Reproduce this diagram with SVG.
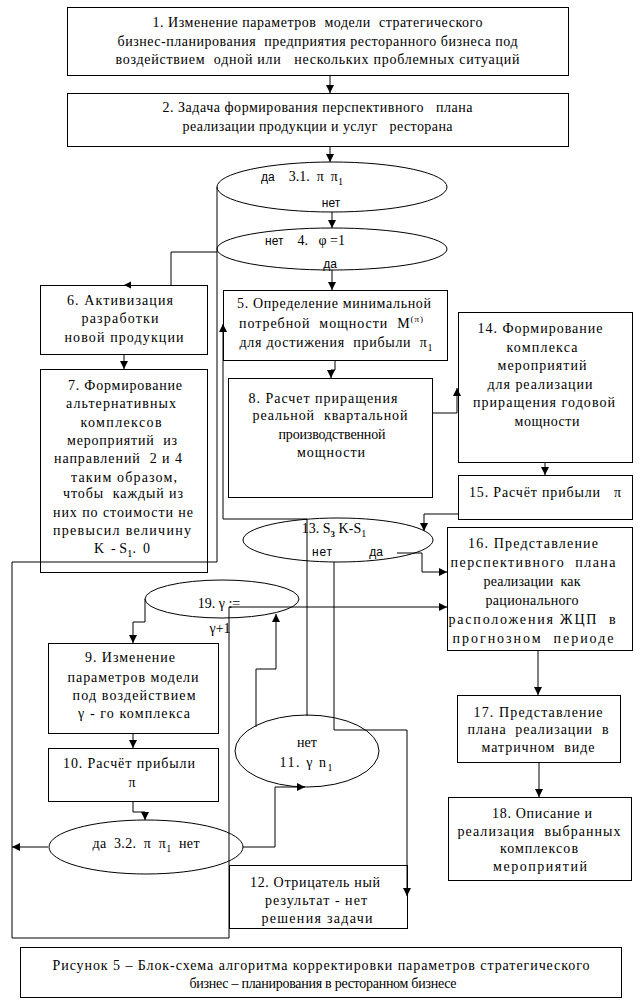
<svg xmlns="http://www.w3.org/2000/svg" width="641" height="1008" viewBox="0 0 641 1008">
<style>
.b{fill:none;stroke:#000;stroke-width:1}
.c{fill:none;stroke:#000;stroke-width:1}
text{font-family:"Liberation Serif","DejaVu Serif",serif;font-size:14px;fill:#000;text-anchor:middle;white-space:pre}
.s{font-family:"Liberation Sans","DejaVu Sans",sans-serif;font-size:12px}
</style>
<defs>
<marker id="a" markerUnits="userSpaceOnUse" markerWidth="8" markerHeight="8" refX="8" refY="4" orient="auto"><path d="M0,0 L8,4 L0,8 z" fill="#000"/></marker>
</defs>
<rect width="641" height="1008" fill="#fff"/>
<g id="connectors">
<path class="c" d="M330,75 V93" marker-end="url(#a)"/>
<path class="c" d="M330,146 V162" marker-end="url(#a)"/>
<path class="c" d="M332,212 V228" marker-end="url(#a)"/>
<path class="c" d="M332,270 V290" marker-end="url(#a)"/>
<path class="c" d="M217,252 H171 V285"/>
<polygon points="124,285 131,281.5 131,288.5" fill="#000"/>
<path class="c" d="M217,187 V562 H12 V938 H229 V607 H447" marker-end="url(#a)"/>
<path class="c" d="M124,354 V369" marker-end="url(#a)"/>
<path class="c" d="M335,360 V370 H331 V378" marker-end="url(#a)"/>
<path class="c" d="M432,413 H457 V388" marker-end="url(#a)"/>
<path class="c" d="M545,462 V475" marker-end="url(#a)"/>
<path class="c" d="M458,514 H424 V531" marker-end="url(#a)"/>
<path class="c" d="M397,553 H422 V572 H447" marker-end="url(#a)"/>
<path class="c" d="M334,562 V730 H407 V896" marker-end="url(#a)"/>
<path class="c" d="M307,716 V519 H223 V324" marker-end="url(#a)"/>
<path class="c" d="M256,727 V669 H276 V614" marker-end="url(#a)"/>
<path class="c" d="M145,599 V622 H133 V643" marker-end="url(#a)"/>
<path class="c" d="M133,733 V748" marker-end="url(#a)"/>
<path class="c" d="M133,801 V812 H145 V820" marker-end="url(#a)"/>
<path class="c" d="M48,847 H12" marker-end="url(#a)"/>
<path class="c" d="M243,847 H275 V787 H305" marker-end="url(#a)"/>
<path class="c" d="M538,650 V695" marker-end="url(#a)"/>
<path class="c" d="M539,762 V797" marker-end="url(#a)"/>
</g>
<g id="n1">
<rect class="b" x="67.5" y="7.5" width="501" height="68"/>
<text x="317.5" y="27" textLength="330" lengthAdjust="spacing">1. Изменение параметров  модели  стратегического</text>
<text x="317.5" y="46" textLength="400" lengthAdjust="spacing">бизнес-планирования  предприятия ресторанного бизнеса под</text>
<text x="317.5" y="64" textLength="404" lengthAdjust="spacing">воздействием  одной или   нескольких проблемных ситуаций</text>
</g>
<g id="n2">
<rect class="b" x="67.5" y="93.5" width="501" height="53"/>
<text x="317.5" y="112" textLength="310" lengthAdjust="spacing">2. Задача формирования перспективного   плана</text>
<text x="317.5" y="131" textLength="270" lengthAdjust="spacing">реализации продукции и услуг   ресторана</text>
</g>
<g id="n3_1">
<ellipse class="b" cx="332" cy="187" rx="115" ry="25"/>
<text x="302" y="181"><tspan class="s">да</tspan>    3.1.  π  π<tspan dy="4" font-size="10">1</tspan></text>
<text class="s" x="331" y="207">нет</text>
</g>
<g id="n4">
<ellipse class="b" cx="332" cy="249" rx="115" ry="21"/>
<text x="305" y="245"><tspan class="s">нет</tspan>    4.   φ =1</text>
<text class="s" x="330" y="268">да</text>
</g>
<g id="n5">
<rect class="b" x="223.5" y="290.5" width="224" height="70"/>
<text x="334" y="308" textLength="194" lengthAdjust="spacing">5. Определение минимальной</text>
<text x="331" y="328" textLength="184" lengthAdjust="spacing">потребной  мощности  M<tspan dy="-6" font-size="9">(π)</tspan></text>
<text x="336" y="347" textLength="193" lengthAdjust="spacing">для достижения  прибыли  π<tspan dy="4" font-size="10">1</tspan></text>
</g>
<g id="n6">
<rect class="b" x="40.5" y="285.5" width="167" height="69"/>
<text x="120" y="305" textLength="106" lengthAdjust="spacing">6. Активизация</text>
<text x="120" y="323" textLength="77" lengthAdjust="spacing">разработки</text>
<text x="124" y="342" textLength="119" lengthAdjust="spacing">новой продукции</text>
</g>
<g id="n7">
<rect class="b" x="40.5" y="369.5" width="167" height="203"/>
<text x="125" y="390" textLength="114" lengthAdjust="spacing">7. Формирование</text>
<text x="121" y="408" textLength="110" lengthAdjust="spacing">альтернативных</text>
<text x="121" y="427" textLength="81" lengthAdjust="spacing">комплексов</text>
<text x="122" y="445" textLength="110" lengthAdjust="spacing">мероприятий  из</text>
<text x="118" y="463" textLength="128" lengthAdjust="spacing">направлений  2 и 4</text>
<text x="124" y="482" textLength="106" lengthAdjust="spacing">таким образом,</text>
<text x="123" y="498" textLength="120" lengthAdjust="spacing">чтобы  каждый из</text>
<text x="123" y="517" textLength="140" lengthAdjust="spacing">них по стоимости не</text>
<text x="122" y="535" textLength="138" lengthAdjust="spacing">превысил величину</text>
<text x="122" y="553" font-size="16">K  - S<tspan dy="4" font-size="11">1</tspan><tspan dy="-4">.  0</tspan></text>
</g>
<g id="n8">
<rect class="b" x="228.5" y="378.5" width="204" height="119"/>
<text x="323" y="403" textLength="149" lengthAdjust="spacing">8. Расчет приращения</text>
<text x="330" y="420" textLength="155" lengthAdjust="spacing">реальной  квартальной</text>
<text x="332" y="439" textLength="107" lengthAdjust="spacing">производственной</text>
<text x="331" y="457" textLength="68" lengthAdjust="spacing">мощности</text>
</g>
<g id="n14">
<rect class="b" x="458.5" y="312.5" width="174" height="150"/>
<text x="540" y="333" textLength="125" lengthAdjust="spacing">14. Формирование</text>
<text x="542" y="352" textLength="71" lengthAdjust="spacing">комплекса</text>
<text x="542" y="370" textLength="89" lengthAdjust="spacing">мероприятий</text>
<text x="540" y="389" textLength="105" lengthAdjust="spacing">для реализации</text>
<text x="544" y="407" textLength="142" lengthAdjust="spacing">приращения годовой</text>
<text x="547" y="426" textLength="65" lengthAdjust="spacing">мощности</text>
</g>
<g id="n15">
<rect class="b" x="458.5" y="475.5" width="174" height="44"/>
<text x="545" y="497" textLength="152" lengthAdjust="spacing">15. Расчёт прибыли   π</text>
</g>
<g id="n13">
<ellipse class="b" cx="338" cy="540" rx="95" ry="22"/>
<text x="334" y="533" font-size="15">13. S<tspan dy="4" font-size="9" font-weight="bold">3</tspan><tspan dy="-4"> K-S</tspan><tspan dy="4" font-size="10">1</tspan></text>
<text class="s" x="322" y="556" textLength="20" lengthAdjust="spacing">нет</text>
<text class="s" x="376" y="556">да</text>
</g>
<g id="n16">
<rect class="b" x="447.5" y="527.5" width="185" height="123"/>
<text x="533" y="548" textLength="130" lengthAdjust="spacing">16. Представление</text>
<text x="533" y="567" textLength="165" lengthAdjust="spacing">перспективного  плана</text>
<text x="532" y="586" textLength="97" lengthAdjust="spacing">реализации  как</text>
<text x="532" y="605" textLength="93" lengthAdjust="spacing">рационального</text>
<text x="532" y="624" textLength="167" lengthAdjust="spacing">расположения ЖЦП  в</text>
<text x="533" y="643" textLength="161" lengthAdjust="spacing">прогнозном  периоде</text>
</g>
<g id="n19">
<ellipse class="b" cx="222" cy="599" rx="77" ry="19"/>
<text x="219" y="608" font-size="16">19. γ :=</text>
<text x="220" y="633" font-size="16">γ+1</text>
</g>
<g id="n9">
<rect class="b" x="48.5" y="643.5" width="170" height="90"/>
<text x="130" y="662" textLength="90" lengthAdjust="spacing">9. Изменение</text>
<text x="133" y="682" textLength="131" lengthAdjust="spacing">параметров модели</text>
<text x="134" y="700" textLength="123" lengthAdjust="spacing">под воздействием</text>
<text x="134" y="718" textLength="112" lengthAdjust="spacing">γ - го комплекса</text>
</g>
<g id="n10">
<rect class="b" x="48.5" y="748.5" width="170" height="53"/>
<text x="129" y="768" textLength="132" lengthAdjust="spacing">10. Расчёт прибыли</text>
<text x="132" y="787">π</text>
</g>
<g id="n3_2">
<ellipse class="b" cx="146" cy="847" rx="97" ry="27"/>
<text x="146" y="848" textLength="107" lengthAdjust="spacing">да  3.2.  π  π<tspan dy="4" font-size="10">1</tspan><tspan dy="-4">  нет</tspan></text>
</g>
<g id="n11">
<ellipse class="b" cx="307" cy="751" rx="72" ry="36"/>
<text x="307" y="747">нет</text>
<text x="306" y="767" textLength="53" lengthAdjust="spacing">11. γ n<tspan dy="4" font-size="10">1</tspan></text>
</g>
<g id="n12">
<rect class="b" x="229.5" y="865.5" width="178" height="63"/>
<text x="315" y="887" textLength="130" lengthAdjust="spacing">12. Отрицатель ный</text>
<text x="316" y="905" textLength="102" lengthAdjust="spacing">результат - нет</text>
<text x="317" y="923" textLength="111" lengthAdjust="spacing">решения задачи</text>
</g>
<g id="n17">
<rect class="b" x="457.5" y="695.5" width="163" height="67"/>
<text x="538" y="717" textLength="129" lengthAdjust="spacing">17. Представление</text>
<text x="538" y="734" textLength="141" lengthAdjust="spacing">плана  реализации  в</text>
<text x="538" y="752" textLength="113" lengthAdjust="spacing">матричном  виде</text>
</g>
<g id="n18">
<rect class="b" x="448.5" y="797.5" width="183" height="83"/>
<text x="542" y="818" textLength="100" lengthAdjust="spacing">18. Описание и</text>
<text x="539" y="836" textLength="163" lengthAdjust="spacing">реализация  выбранных</text>
<text x="539" y="853" textLength="78" lengthAdjust="spacing">комплексов</text>
<text x="540" y="871" textLength="94" lengthAdjust="spacing">мероприятий</text>
</g>
<g id="caption">
<rect class="b" x="20.5" y="947.5" width="601" height="50"/>
<text x="321" y="970" textLength="537" lengthAdjust="spacing">Рисунок 5 – Блок-схема алгоритма корректировки параметров стратегического</text>
<text x="323" y="988" textLength="267" lengthAdjust="spacing">бизнес – планирования в ресторанном бизнесе</text>
</g>
</svg>
